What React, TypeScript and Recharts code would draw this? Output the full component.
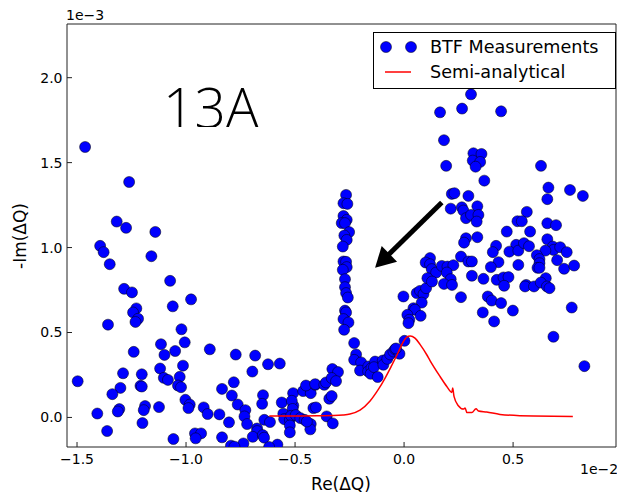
import React from 'react'
import { ScatterChart, Scatter, XAxis, YAxis, ReferenceLine } from 'recharts'

// BTF measurements, [Re(dQ) in 1e-2, -Im(dQ) in 1e-3]
const btfLeft: [number, number][] = [
  [-1.463, 1.592], [-1.261, 1.386], [-1.318, 1.153], [-1.275, 1.116], [-1.141, 1.092],
  [-1.394, 1.01], [-1.378, 0.973], [-1.35, 0.902], [-1.159, 0.949], [-1.073, 0.804],
  [-1.284, 0.757], [-1.248, 0.736], [-0.977, 0.695], [-1.061, 0.654], [-1.228, 0.642],
  [-1.243, 0.618], [-1.22, 0.581], [-1.232, 0.562], [-1.358, 0.546], [-1.021, 0.519],
  [-1.006, 0.442], [-1.115, 0.431], [-0.891, 0.401], [-1.24, 0.386], [-1.05, 0.391],
  [-1.099, 0.368], [-0.772, 0.37], [-0.683, 0.364], [-1.014, 0.305], [-1.119, 0.288],
  [-0.624, 0.313], [-0.57, 0.317], [-0.696, 0.27], [-1.289, 0.26], [-1.203, 0.254],
  [-1.497, 0.213], [-1.102, 0.233], [-1.083, 0.221], [-1.029, 0.239], [-0.781, 0.207],
  [-1.209, 0.186], [-1.203, 0.182], [-1.037, 0.188], [-1.023, 0.178], [-1.301, 0.174],
  [-0.835, 0.168], [-1.338, 0.137], [-0.79, 0.129], [-0.647, 0.131], [-1.003, 0.104],
  [-0.983, 0.076], [-0.989, 0.055], [-0.763, 0.076], [-0.651, 0.08], [-0.561, 0.088],
  [-0.728, 0.043], [-0.919, 0.059], [-1.124, 0.061], [-1.188, 0.067], [-1.306, 0.049],
  [-1.313, 0.035], [-1.194, 0.043], [-0.901, 0.02], [-0.847, 0.018], [-1.407, 0.023],
  [-0.732, 0.006], [-0.641, -0.014], [-0.615, -0.027], [-0.803, -0.029], [-0.72, -0.039],
  [-1.2, -0.033], [-0.674, -0.065], [-0.674, -0.08], [-0.694, -0.114], [-0.648, -0.104],
  [-0.642, -0.119], [-1.362, -0.08], [-0.959, -0.094], [-0.931, -0.094], [-0.956, -0.123],
  [-1.058, -0.127], [-0.835, -0.117], [-0.737, -0.153], [-0.794, -0.166], [-0.778, -0.172],
  [-0.581, -0.16], [-0.619, -0.174],
]

const btfLow: [number, number][] = [
  [-0.509, 0.143], [-0.463, 0.155], [-0.428, 0.143], [-0.407, 0.192], [-0.45, 0.188],
  [-0.508, 0.07], [-0.515, 0.098], [-0.511, 0.05], [-0.554, 0.022], [-0.55, -0.01],
  [-0.524, -0.014], [-0.518, 0.01], [-0.497, 0.014], [-0.476, -0.004], [-0.456, -0.014],
  [-0.428, -0.039], [-0.43, -0.07], [-0.524, -0.047], [-0.524, -0.088], [-0.446, -0.024],
  [-0.408, 0.196], [-0.366, 0.192], [-0.358, 0.206], [-0.329, 0.285], [-0.303, 0.267],
  [-0.332, 0.232], [-0.312, 0.214], [-0.343, 0.11], [-0.332, 0.126], [-0.416, 0.055],
  [-0.404, 0.059], [-0.355, 0.006], [-0.327, -0.035],
]

const btfColumn: [number, number][] = [
  [-0.266, 1.31], [-0.278, 1.261], [-0.26, 1.257], [-0.278, 1.186], [-0.263, 1.163],
  [-0.286, 1.144], [-0.271, 1.144], [-0.252, 1.091], [-0.274, 1.071], [-0.263, 1.045],
  [-0.281, 1.006], [-0.278, 0.918], [-0.266, 0.916], [-0.263, 0.885], [-0.281, 0.869],
  [-0.271, 0.814], [-0.271, 0.767], [-0.266, 0.732], [-0.258, 0.706], [-0.271, 0.629],
  [-0.266, 0.618], [-0.278, 0.579], [-0.255, 0.559], [-0.275, 0.516],
]

const btfShoulder: [number, number][] = [
  [-0.229, 0.438], [-0.22, 0.371], [-0.229, 0.339], [-0.197, 0.324], [-0.202, 0.276],
  [-0.164, 0.3], [-0.165, 0.271], [-0.15, 0.29], [-0.153, 0.257], [-0.133, 0.329],
  [-0.138, 0.296], [-0.121, 0.238], [-0.098, 0.335], [-0.095, 0.31], [-0.077, 0.345],
  [-0.064, 0.371], [-0.049, 0.388], [-0.041, 0.402], [-0.021, 0.375], [-0.037, 0.406],
  [0.002, 0.451],
]

const btfRise: [number, number][] = [
  [-0.003, 0.712], [0.058, 0.732], [0.073, 0.745], [0.089, 0.726], [0.101, 0.761],
  [0.081, 0.676], [0.043, 0.643], [0.05, 0.634], [0.076, 0.598], [0.015, 0.604],
  [0.024, 0.575], [0.02, 0.555], [0.119, 0.938], [0.099, 0.912], [0.119, 0.902],
  [0.127, 0.873], [0.147, 0.853], [0.173, 0.892], [0.199, 0.888], [0.226, 0.896],
  [0.196, 0.853], [0.214, 0.814], [0.183, 0.786], [0.22, 0.78], [0.107, 0.82],
  [0.128, 0.8], [0.261, 0.947], [0.261, 0.708],
]

const btfRight: [number, number][] = [
  [0.284, 1.055], [0.275, 1.029], [0.336, 1.061], [0.471, 1.094], [0.514, 1.016],
  [0.422, 1.01], [0.407, 0.973], [0.483, 0.976], [0.524, 0.982], [0.295, 0.918],
  [0.311, 0.918], [0.433, 0.914], [0.398, 0.885], [0.524, 0.898], [0.311, 0.834],
  [0.364, 0.816], [0.425, 0.81], [0.456, 0.824], [0.479, 0.826], [0.459, 0.775],
  [0.384, 0.712], [0.402, 0.688], [0.445, 0.673], [0.499, 0.629], [0.361, 0.618],
  [0.413, 0.565],
  [0.307, 1.902], [0.165, 1.796], [0.266, 1.818], [0.445, 1.802], [0.183, 1.632],
  [0.193, 1.481], [0.318, 1.555], [0.355, 1.551], [0.315, 1.512], [0.349, 1.504],
  [0.328, 1.476], [0.368, 1.394], [0.219, 1.316], [0.231, 1.32], [0.295, 1.304],
  [0.214, 1.229], [0.265, 1.237], [0.272, 1.218], [0.284, 1.173], [0.336, 1.243],
  [0.307, 1.192], [0.341, 1.192], [0.333, 1.153], [0.563, 1.21], [0.52, 1.155],
  [0.54, 1.155], [0.578, 1.094],
  [0.628, 1.481], [0.662, 1.353], [0.657, 1.285], [0.761, 1.339], [0.82, 1.304],
  [0.657, 1.143], [0.697, 1.132], [0.657, 1.049], [0.55, 1.026], [0.573, 1.008],
  [0.682, 1.006], [0.685, 0.986], [0.716, 1.002], [0.648, 0.982], [0.746, 0.973],
  [0.609, 0.955], [0.621, 0.932], [0.621, 0.908], [0.612, 0.881], [0.621, 0.881],
  [0.702, 0.926], [0.734, 0.875], [0.78, 0.894], [0.56, 0.78], [0.555, 0.771],
  [0.596, 0.771], [0.65, 0.82], [0.627, 0.794], [0.655, 0.771], [0.667, 0.761],
  [0.769, 0.647], [0.685, 0.475], [0.827, 0.302],
]

// semi-analytical curve
const semiRe = [
  -0.618, -0.55, -0.477, -0.4, -0.324, -0.28, -0.248, -0.202, -0.156, -0.118, -0.087,
  -0.056, -0.026, -0.003, 0.012, 0.028, 0.05, 0.073, 0.104, 0.119, 0.165, 0.196, 0.219,
  0.223, 0.229, 0.249, 0.272, 0.28, 0.288, 0.311, 0.33, 0.341, 0.379, 0.44, 0.593, 0.774,
]
const semiIm = [
  0.008, 0.008, 0.009, 0.01, 0.011, 0.014, 0.02, 0.043, 0.097, 0.165, 0.232,
  0.308, 0.385, 0.447, 0.473, 0.48, 0.467, 0.43, 0.369, 0.335, 0.241, 0.182, 0.147,
  0.173, 0.124, 0.069, 0.049, 0.055, 0.029, 0.029, 0.051, 0.038, 0.032, 0.018, 0.008, 0.006,
]

const xTicks = [-1.5, -1.0, -0.5, 0.0, 0.5]
const yTicks = [0.0, 0.5, 1.0, 1.5, 2.0]
const xDomain = [-1.546, 0.972]
const yDomain = [-0.174, 2.316]

// arrow annotation (data coords)
const arrowTail = { x: 0.173, y: 1.265 }
const arrowHead = { x: -0.133, y: 0.881 }

const btfData = [...btfLeft, ...btfLow, ...btfColumn, ...btfShoulder, ...btfRise, ...btfRight].map(
  ([re, im]) => ({ re, im })
)
const semiData = semiRe.map((re, i) => ({ re, im: semiIm[i] }))

const FONT = 'DejaVu Sans, sans-serif'
const tickStyle = { fill: '#000', fontSize: 14, fontFamily: FONT }

const fmt = (v: number) => (v < 0 ? '\u2212' : '') + Math.abs(v).toFixed(1)

const Dot = (props: any) => (
  <circle cx={props.cx} cy={props.cy} r={5.5} fill="#0000ff" stroke="#000" strokeWidth={0.5} />
)

const Arrow = (props: any) => {
  const { x1, y1, x2, y2 } = props
  const dx = x2 - x1
  const dy = y2 - y1
  const len = Math.hypot(dx, dy) || 1
  const ux = dx / len
  const uy = dy / len
  const headLen = 20
  const half = 11
  const bx = x2 - ux * headLen
  const by = y2 - uy * headLen
  return (
    <g>
      <line x1={x1} y1={y1} x2={bx + ux * 2} y2={by + uy * 2} stroke="#000" strokeWidth={5} />
      <polygon
        points={`${x2},${y2} ${bx - uy * half},${by + ux * half} ${bx + uy * half},${by - ux * half}`}
        fill="#000"
      />
    </g>
  )
}

export default function App() {
  return (
    <div style={{ position: 'absolute', left: 0, top: 0, width: 617, height: 495, background: '#fff' }}>
      <ScatterChart width={617} height={495} margin={{ top: 23, right: 0, bottom: 47, left: 66 }}>
        <XAxis
          type="number"
          dataKey="re"
          domain={xDomain}
          ticks={xTicks}
          allowDataOverflow
          height={1}
          tickFormatter={fmt}
          tick={tickStyle}
          tickSize={-5}
          tickMargin={12}
          stroke="#222"
        />
        <XAxis
          xAxisId="top"
          orientation="top"
          type="number"
          domain={xDomain}
          ticks={xTicks}
          allowDataOverflow
          height={1}
          tick={false}
          tickSize={-5}
          stroke="#222"
        />
        <YAxis
          type="number"
          dataKey="im"
          domain={yDomain}
          ticks={yTicks}
          allowDataOverflow
          width={1}
          tickFormatter={fmt}
          tick={tickStyle}
          tickSize={-5}
          tickMargin={9.5}
          stroke="#222"
        />
        <YAxis
          yAxisId="right"
          orientation="right"
          type="number"
          domain={yDomain}
          ticks={yTicks}
          allowDataOverflow
          width={1}
          tick={false}
          tickSize={-5}
          stroke="#222"
        />
        <Scatter data={btfData} shape={Dot} isAnimationActive={false} />
        <Scatter
          data={semiData}
          fill="#ff0000"
          line={{ stroke: '#ff0000', strokeWidth: 1.5 }}
          lineType="joint"
          lineJointType="monotoneX"
          shape={() => <g />}
          isAnimationActive={false}
        />
        <ReferenceLine segment={[arrowTail, arrowHead]} shape={Arrow} />
      </ScatterChart>
      <svg
        width={617}
        height={495}
        style={{ position: 'absolute', left: 0, top: 0, pointerEvents: 'none' }}
      >
        <defs>
          <clipPath id="clip13a">
            <rect x={150} y={60} width={140} height={67} />
          </clipPath>
        </defs>
        <text
          x={163}
          y={128}
          fontSize={55}
          fontFamily="Open Sans, Liberation Sans, sans-serif"
          fontWeight={300}
          fill="#000"
          clipPath="url(#clip13a)"
        >
          13A
        </text>
        <text x={66} y={20} fontSize={14} fontFamily={FONT} fill="#000">1e{'\u2212'}3</text>
        <text x={580} y={474} fontSize={14} fontFamily={FONT} fill="#000">1e{'\u2212'}2</text>
        <text x={341} y={490} fontSize={17} fontFamily={FONT} fill="#000" textAnchor="middle">
          Re(ΔQ)
        </text>
        <text
          x={26}
          y={236}
          fontSize={17}
          fontFamily={FONT}
          fill="#000"
          textAnchor="middle"
          transform="rotate(-90 26 236)"
        >
          -Im(ΔQ)
        </text>
        <g>
          <rect x={373.5} y={32.5} width={242} height={56} fill="#fff" stroke="#000" strokeWidth={1} />
          <circle cx={386} cy={47} r={5.5} fill="#0000ff" stroke="#000" strokeWidth={0.5} />
          <circle cx={411} cy={47} r={5.5} fill="#0000ff" stroke="#000" strokeWidth={0.5} />
          <text x={430} y={53} fontSize={17.6} fontFamily={FONT} fill="#000">BTF Measurements</text>
          <line x1={385} y1={72} x2={411} y2={72} stroke="#ff0000" strokeWidth={1.5} />
          <text x={430} y={78} fontSize={17.6} fontFamily={FONT} fill="#000">Semi-analytical</text>
        </g>
      </svg>
    </div>
  )
}
